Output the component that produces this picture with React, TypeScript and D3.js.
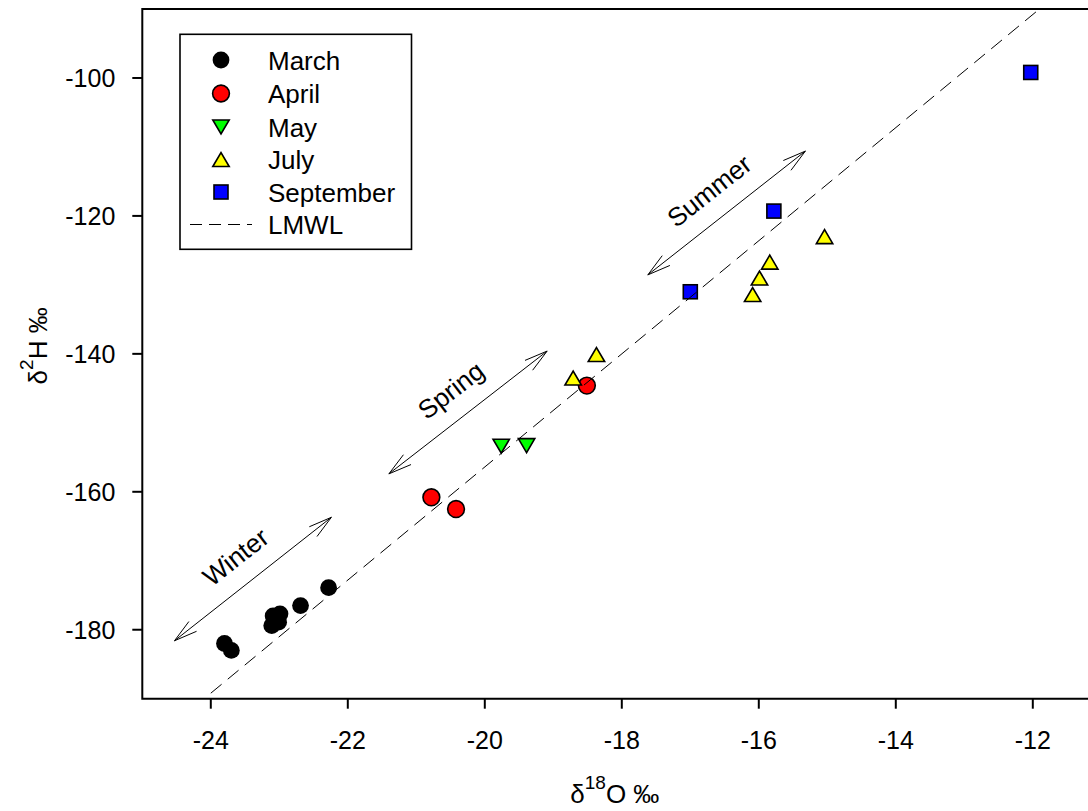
import React from "react";
import * as d3 from "d3";

// δ18O / δ2H of precipitation samples by month
const marchX = [-23.8, -23.7, -23.09, -22.99, -23.11, -23.01, -22.69, -22.28];
const marchY = [-182.0, -183.0, -178.0, -177.7, -179.4, -178.9, -176.5, -173.9];
const aprilX = [-20.78, -20.42, -18.51];
const aprilY = [-160.8, -162.5, -144.6];
const mayX = [-19.76, -19.39];
const mayY = [-153.4, -153.3];
const julyX = [-18.71, -18.37, -16.09, -15.99, -15.84, -15.04];
const julyY = [-143.5, -140.1, -131.4, -129.0, -126.7, -123.0];
const septX = [-17.0, -15.78, -12.03];
const septY = [-131.0, -119.3, -99.2];

// Local meteoric water line: δ2H = slope * δ18O + intercept
const lmwlSlope = 8.2;
const lmwlIntercept = 7.6;
const lmwlRange = [-24, -11.5];

const xTicks = [-24, -22, -20, -18, -16, -14, -12];
const yTicks = [-180, -160, -140, -120, -100];

// Seasonal annotations (double-headed arrows, data coordinates)
const seasonLabels = ["Winter", "Spring", "Summer"];
const seasonFrom = [[-24.53, -181.6], [-21.4, -157.4], [-17.62, -128.55]];
const seasonTo = [[-22.24, -163.7], [-19.09, -139.6], [-15.32, -110.6]];

const legendNames = ["March", "April", "May", "July", "September", "LMWL"];

type Shape = "circle" | "down" | "up" | "square";

const series: { name: string; xs: number[]; ys: number[]; shape: Shape; fill: string }[] = [
  { name: "March", xs: marchX, ys: marchY, shape: "circle", fill: "#000000" },
  { name: "April", xs: aprilX, ys: aprilY, shape: "circle", fill: "#ff0000" },
  { name: "May", xs: mayX, ys: mayY, shape: "down", fill: "#00ff00" },
  { name: "July", xs: julyX, ys: julyY, shape: "up", fill: "#ffff00" },
  { name: "September", xs: septX, ys: septY, shape: "square", fill: "#0000ff" },
];

const W = 1088;
const H = 811;
const plot = { left: 142.3, right: 1101.3, top: 9, bottom: 698.7 };
const FONT = "'Liberation Sans', Arial, Helvetica, sans-serif";

const x = d3.scaleLinear().domain([-25, -11]).range([plot.left, plot.right]);
const y = d3.scaleLinear().domain([-190, -90]).range([plot.bottom, plot.top]);

function Marker({ shape, fill, cx, cy }: { shape: Shape; fill: string; cx: number; cy: number }) {
  const sw = 1.6;
  if (shape === "circle") {
    return <circle cx={cx} cy={cy} r={8.4} fill={fill} stroke="#000" strokeWidth={fill === "#000000" ? 0 : sw} />;
  }
  if (shape === "square") {
    const s = 14;
    return <rect x={cx - s / 2} y={cy - s / 2} width={s} height={s} fill={fill} stroke="#000" strokeWidth={sw} />;
  }
  const hw = 8.2;
  const hh = 7;
  const d =
    shape === "up"
      ? `M${cx - hw},${cy + hh}L${cx + hw},${cy + hh}L${cx},${cy - hh}Z`
      : `M${cx - hw},${cy - hh}L${cx + hw},${cy - hh}L${cx},${cy + hh}Z`;
  return <path d={d} fill={fill} stroke="#000" strokeWidth={sw} strokeLinejoin="miter" />;
}

function Arrow({ from, to, label }: { from: number[]; to: number[]; label: string }) {
  const x1 = x(from[0]);
  const y1 = y(from[1]);
  const x2 = x(to[0]);
  const y2 = y(to[1]);
  const ang = Math.atan2(y2 - y1, x2 - x1);
  const len = 24;
  const spread = (15 * Math.PI) / 180;
  const head = (tx: number, ty: number, a: number) => {
    const b1 = [tx - len * Math.cos(a - spread), ty - len * Math.sin(a - spread)];
    const b2 = [tx - len * Math.cos(a + spread), ty - len * Math.sin(a + spread)];
    return `M${b1[0]},${b1[1]}L${tx},${ty}L${b2[0]},${b2[1]}`;
  };
  const mx = (x1 + x2) / 2;
  const my = (y1 + y2) / 2;
  const deg = (ang * 180) / Math.PI;
  return (
    <g>
      <line x1={x1} y1={y1} x2={x2} y2={y2} stroke="#000" strokeWidth={1} />
      <path d={head(x2, y2, ang)} fill="none" stroke="#000" strokeWidth={1} />
      <path d={head(x1, y1, ang + Math.PI)} fill="none" stroke="#000" strokeWidth={1} />
      <text
        transform={`translate(${mx},${my}) rotate(${deg})`}
        y={-19}
        textAnchor="middle"
        fontFamily={FONT}
        fontSize={26}
      >
        {label}
      </text>
    </g>
  );
}

export default function App() {
  const lmwl = d3
    .line<number>()
    .x((d) => x(d))
    .y((d) => y(lmwlSlope * d + lmwlIntercept))(lmwlRange);

  const legendRowY = [60, 93.5, 127, 159.5, 192, 224.5];
  const legendMarkerX = 221;
  const legendTextX = 268;

  return (
    <svg width={W} height={H} style={{ position: "absolute", left: 0, top: 0, background: "#fff" }}>
      <defs>
        <clipPath id="plotClip">
          <rect x={plot.left} y={plot.top} width={plot.right - plot.left} height={plot.bottom - plot.top} />
        </clipPath>
      </defs>
      <rect width={W} height={H} fill="#fff" />

      {/* markers */}
      {series.map((s) =>
        s.xs.map((v, i) => <Marker key={s.name + i} shape={s.shape} fill={s.fill} cx={x(v)} cy={y(s.ys[i])} />)
      )}

      {/* LMWL */}
      <path d={lmwl ?? ""} fill="none" stroke="#000" strokeWidth={1} strokeDasharray="14,8" clipPath="url(#plotClip)" />

      {/* seasonal arrows */}
      {seasonLabels.map((lab, i) => (
        <Arrow key={lab} from={seasonFrom[i]} to={seasonTo[i]} label={lab} />
      ))}

      {/* frame */}
      <path
        d={`M${plot.right},${plot.top}H${plot.left}V${plot.bottom}H${plot.right}`}
        fill="none"
        stroke="#000"
        strokeWidth={2}
      />

      {/* x axis */}
      {xTicks.map((t) => (
        <g key={"x" + t}>
          <line x1={x(t)} x2={x(t)} y1={plot.bottom} y2={plot.bottom + 10} stroke="#000" strokeWidth={2} />
          <text x={x(t)} y={plot.bottom + 50} textAnchor="middle" fontFamily={FONT} fontSize={25}>
            {t}
          </text>
        </g>
      ))}
      <text x={(plot.left + plot.right) / 2 - 7} y={H - 8} textAnchor="middle" fontFamily={FONT} fontSize={26}>
        δ<tspan fontSize={19} dy={-14}>18</tspan>
        <tspan dy={14}>O ‰</tspan>
      </text>

      {/* y axis */}
      {yTicks.map((t) => (
        <g key={"y" + t}>
          <line x1={plot.left - 10} x2={plot.left} y1={y(t)} y2={y(t)} stroke="#000" strokeWidth={2} />
          <text x={plot.left - 27} y={y(t) + 9} textAnchor="end" fontFamily={FONT} fontSize={25}>
            {t}
          </text>
        </g>
      ))}
      <text
        transform={`translate(47,${(plot.top + plot.bottom) / 2 - 8}) rotate(-90)`}
        textAnchor="middle"
        fontFamily={FONT}
        fontSize={26}
      >
        δ<tspan fontSize={19} dy={-14}>2</tspan>
        <tspan dy={14}>H ‰</tspan>
      </text>

      {/* legend */}
      <rect x={180} y={34.3} width={231.5} height={215} fill="#fff" stroke="#000" strokeWidth={1.6} />
      {legendNames.map((name, i) => {
        const s = series.find((d) => d.name === name);
        const cy = legendRowY[i];
        return (
          <g key={"lg" + name}>
            {s ? (
              <Marker shape={s.shape} fill={s.fill} cx={legendMarkerX} cy={cy} />
            ) : (
              <line x1={190} x2={252} y1={cy} y2={cy} stroke="#000" strokeWidth={1} strokeDasharray="12,7" />
            )}
            <text x={legendTextX} y={cy + 9.5} fontFamily={FONT} fontSize={26}>
              {name}
            </text>
          </g>
        );
      })}
    </svg>
  );
}
